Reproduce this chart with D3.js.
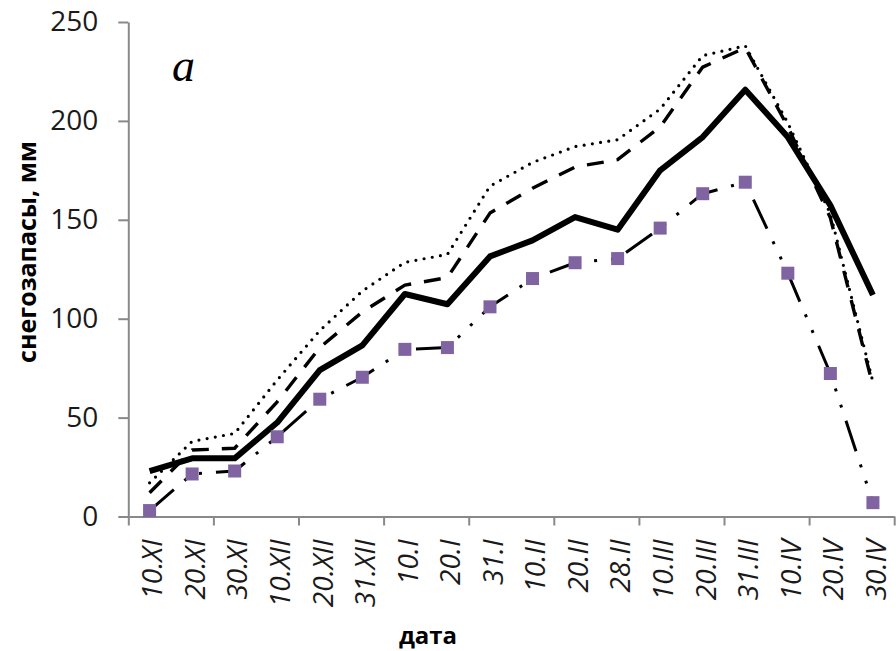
<!DOCTYPE html>
<html>
<head>
<meta charset="utf-8">
<script src="https://cdnjs.cloudflare.com/ajax/libs/d3/7.8.5/d3.min.js"></script>
<style>
body { margin: 0; background: #fff; }
.axis path, .axis line { stroke: #898989; stroke-width: 2; }
.axis text { font-family: 'Open Sans', sans-serif; fill: #1a1a1a; }
</style>
</head>
<body>
<svg class="chart"></svg>
<script>
// dates along the x axis
var categories = ['10.XI', '20.XI', '30.XI', '10.XII', '20.XII', '31.XII', '10.I', '20.I', '31.I',
	'10.II', '20.II', '28.II', '10.III', '20.III', '31.III', '10.IV', '20.IV', '30.IV'];

// snow storage, mm
var solidValues  = [23, 29.4, 29.4, 47.5, 74, 86.5, 112.5, 107.3, 131.5, 139.6, 151.4, 145, 175, 191.8, 215.8, 191.8, 157.3, 112];
var dottedValues = [17, 38, 42, 69, 94, 114, 128.5, 132.5, 167, 179, 187, 190.5, 206, 233, 238, 199, 153, 68];
var dashedValues = [12, 33.6, 34.5, 58, 85.4, 103.4, 117, 120.8, 153.4, 166, 176.7, 180.4, 197, 227.2, 237, 197, 151, 66];
var squareValues = [3, 21.5, 23, 40.3, 59.3, 70.4, 84.5, 85.4, 106, 120.3, 128.3, 130.4, 145.8, 163.2, 169, 123, 72.3, 7];

var yTicks = [0, 50, 100, 150, 200, 250];

var w = 896, h = 651;
var margin = {top: 22, right: 1.8, bottom: 134.5, left: 128.3};
var pw = w - margin.left - margin.right,
	ph = h - margin.top - margin.bottom;

var chart = d3.select('.chart')
	.attr('width', w)
	.attr('height', h);

var g = chart.append('g')
	.attr('transform', 'translate(' + margin.left + ',' + margin.top + ')');

// scales
var x = d3.scaleBand()
	.domain(categories)
	.range([0, pw]);

// boundaries between categories, for the tick marks
var xEdge = d3.scaleLinear()
	.domain([0, categories.length])
	.range([0, pw]);

var y = d3.scaleLinear()
	.domain([0, 250])
	.range([ph, 0]);

function cx(i) {
	return x(categories[i]) + x.bandwidth() / 2;
}

// Y axis
g.append('g')
	.attr('class', 'axis axis--y')
	.call(d3.axisLeft(y).tickValues(yTicks).tickSize(10).tickPadding(20).tickSizeOuter(0))
	.selectAll('text')
	.attr('font-size', 28);

// X axis: ticks every second boundary
g.append('g')
	.attr('class', 'axis axis--x')
	.attr('transform', 'translate(0,' + ph + ')')
	.call(d3.axisBottom(xEdge)
		.tickValues(d3.range(0, categories.length + 1, 2))
		.tickFormat('')
		.tickSize(9)
		.tickSizeOuter(0));

// X labels, rotated
var xLab = g.append('g')
	.attr('class', 'axis axis--xlab')
	.attr('transform', 'translate(0,' + ph + ')')
	.call(d3.axisBottom(x).tickSize(0));
xLab.select('.domain').remove();
xLab.selectAll('text')
	.attr('transform', 'rotate(-90)')
	.attr('x', -23)
	.attr('y', 3)
	.attr('dy', '0.35em')
	.attr('font-size', 28)
	.attr('font-style', 'italic')
	.style('text-anchor', 'end');

// lines
var line = d3.line()
	.x(function(d, i) { return cx(i); })
	.y(function(d) { return y(d); });

var series = [
	{values: dottedValues, width: 3.2, dash: '0,8.3', cap: 'round'},
	{values: dashedValues, width: 3.4, dash: '17,13', cap: 'butt'},
	{values: solidValues, width: 6, dash: null, cap: 'butt'},
	{values: squareValues, width: 3, dash: '32,14,3,14,3,14', cap: 'butt'}
];

g.selectAll('.series')
	.data(series)
	.enter().append('path')
	.attr('class', 'series')
	.attr('d', function(d) { return line(d.values); })
	.attr('fill', 'none')
	.attr('stroke', '#000')
	.attr('stroke-width', function(d) { return d.width; })
	.attr('stroke-dasharray', function(d) { return d.dash; })
	.attr('stroke-linecap', function(d) { return d.cap; })
	.attr('stroke-linejoin', 'round');

// purple markers
var sq = 13;
g.selectAll('.marker')
	.data(squareValues)
	.enter().append('rect')
	.attr('class', 'marker')
	.attr('x', function(d, i) { return cx(i) - sq / 2; })
	.attr('y', function(d) { return y(d) - sq / 2; })
	.attr('width', sq)
	.attr('height', sq)
	.attr('fill', '#8064a2');

// axis titles
chart.append('text')
	.attr('transform', 'translate(36,252) rotate(-90)')
	.attr('font-family', 'Open Sans, sans-serif')
	.attr('font-weight', 'bold')
	.attr('font-size', 25)
	.style('text-anchor', 'middle')
	.text('снегозапасы, мм');

chart.append('text')
	.attr('x', 428)
	.attr('y', 644)
	.attr('font-family', 'Open Sans, sans-serif')
	.attr('font-weight', 'bold')
	.attr('font-size', 24)
	.style('text-anchor', 'middle')
	.text('дата');

// panel letter
chart.append('text')
	.attr('x', 172)
	.attr('y', 81)
	.attr('font-family', 'Liberation Serif, serif')
	.attr('font-style', 'italic')
	.attr('font-size', 46)
	.text('a');
</script>
</body>
</html>
